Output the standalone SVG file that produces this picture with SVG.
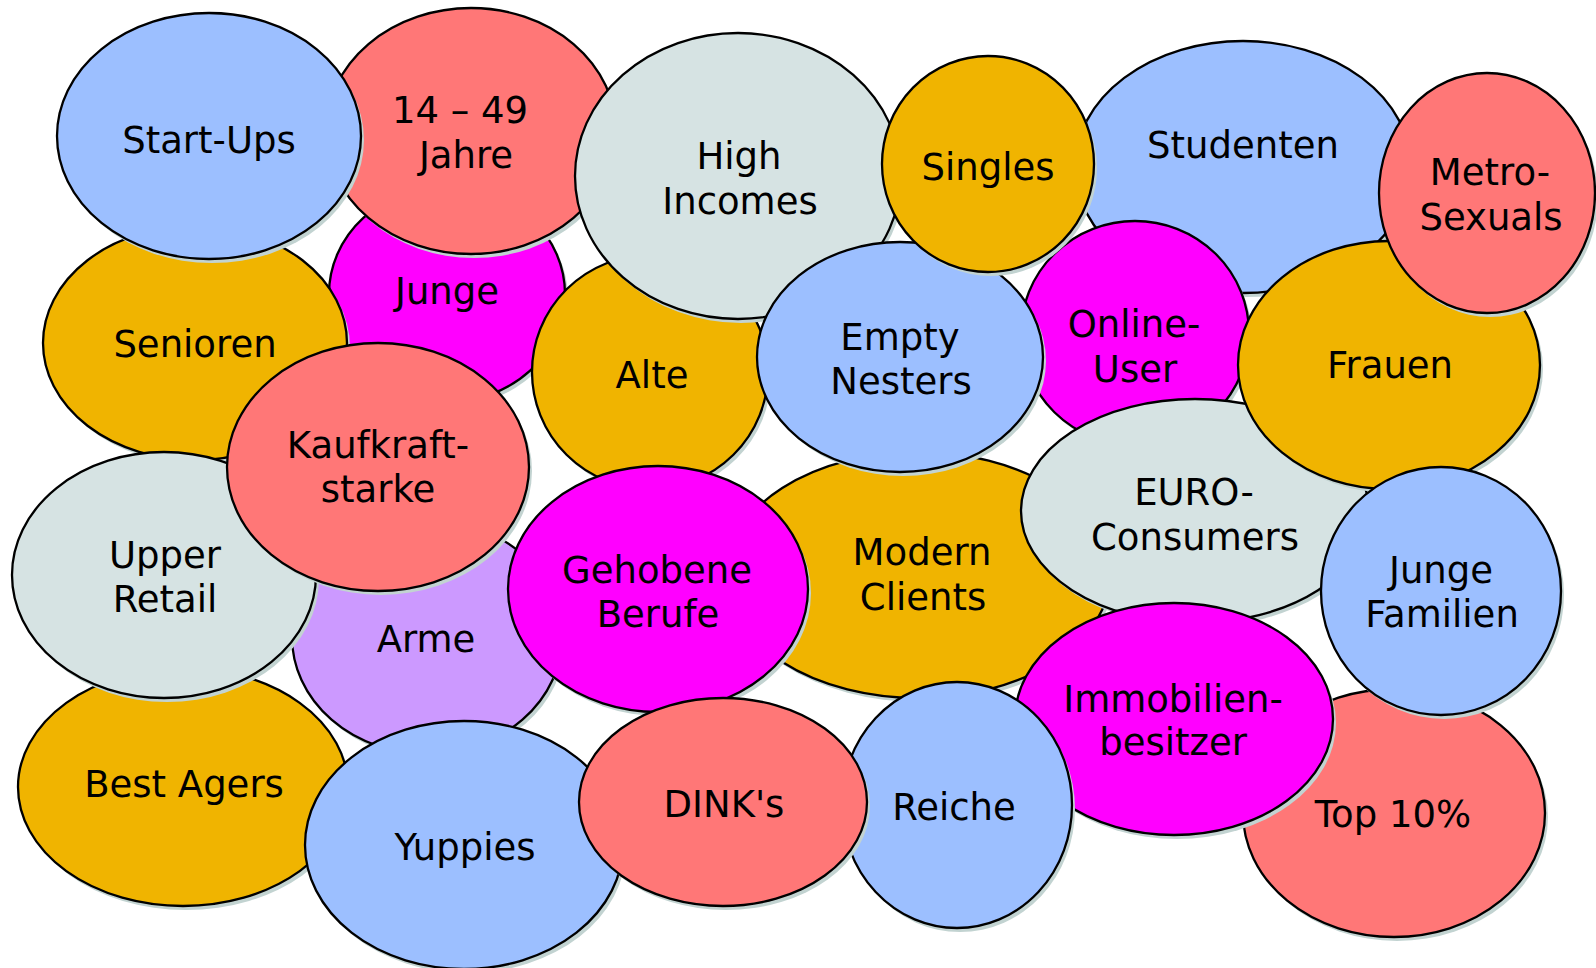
<svg xmlns="http://www.w3.org/2000/svg" width="1596" height="968" viewBox="0 0 1596 968">
  <style>
    .sh { fill: #c2d3d1; }
    .b { stroke: #000; stroke-width: 2.3; }
    .blue { fill: #9cbfff; }
    .red { fill: #ff7777; }
    .grey { fill: #d6e3e3; }
    .gold { fill: #f0b400; }
    .pink { fill: #ff00ff; }
    .lila { fill: #cc99ff; }
    text { font-family: "DejaVu Sans", Verdana, sans-serif; font-size: 37px; fill: #000; text-anchor: middle; }
  </style>
  <rect width="1596" height="968" fill="#fff"/>

  <!-- bubbles, painted back to front; each has its own drop shadow -->
  <g id="junge">
    <ellipse class="sh" cx="450" cy="298" rx="118" ry="108"/>
    <ellipse class="b pink" cx="447" cy="294" rx="118" ry="108"/>
    <text x="447" y="304">Junge</text>
  </g>
  <g id="senioren">
    <ellipse class="sh" cx="198" cy="347" rx="152" ry="117"/>
    <ellipse class="b gold" cx="195" cy="343" rx="152" ry="117"/>
    <text x="195" y="357">Senioren</text>
  </g>
  <g id="alter-14-49">
    <ellipse class="sh" cx="474" cy="135" rx="145" ry="123"/>
    <ellipse class="b red" cx="471" cy="131" rx="145" ry="123"/>
    <text x="460" y="123">14 – 49</text>
    <text x="466" y="168">Jahre</text>
  </g>
  <g id="start-ups">
    <ellipse class="sh" cx="212" cy="140" rx="152" ry="123"/>
    <ellipse class="b blue" cx="209" cy="136" rx="152" ry="123"/>
    <text x="209" y="153">Start-Ups</text>
  </g>
  <g id="alte">
    <ellipse class="sh" cx="653" cy="376" rx="118" ry="117"/>
    <ellipse class="b gold" cx="650" cy="372" rx="118" ry="117"/>
    <text x="652" y="388">Alte</text>
  </g>
  <g id="high-incomes">
    <ellipse class="sh" cx="741" cy="180" rx="163" ry="143"/>
    <ellipse class="b grey" cx="738" cy="176" rx="163" ry="143"/>
    <text x="739" y="169">High</text>
    <text x="740" y="214">Incomes</text>
  </g>
  <g id="studenten">
    <ellipse class="sh" cx="1246" cy="171" rx="168" ry="126"/>
    <ellipse class="b blue" cx="1243" cy="167" rx="168" ry="126"/>
    <text x="1243" y="158">Studenten</text>
  </g>
  <g id="online-user">
    <ellipse class="sh" cx="1138" cy="337" rx="114" ry="112"/>
    <ellipse class="b pink" cx="1135" cy="333" rx="114" ry="112"/>
    <text x="1134" y="337">Online-</text>
    <text x="1135" y="382">User</text>
  </g>
  <g id="modern-clients">
    <ellipse class="sh" cx="921" cy="579" rx="192" ry="123"/>
    <ellipse class="b gold" cx="918" cy="575" rx="192" ry="123"/>
    <text x="922" y="565">Modern</text>
    <text x="923" y="610">Clients</text>
  </g>
  <g id="empty-nesters">
    <ellipse class="sh" cx="903" cy="361" rx="143" ry="115"/>
    <ellipse class="b blue" cx="900" cy="357" rx="143" ry="115"/>
    <text x="900" y="350">Empty</text>
    <text x="901" y="394">Nesters</text>
  </g>
  <g id="singles">
    <ellipse class="sh" cx="991" cy="168" rx="106" ry="108"/>
    <ellipse class="b gold" cx="988" cy="164" rx="106" ry="108"/>
    <text x="988" y="180">Singles</text>
  </g>
  <g id="euro-consumers">
    <ellipse class="sh" cx="1198" cy="515" rx="174" ry="112"/>
    <ellipse class="b grey" cx="1195" cy="511" rx="174" ry="112"/>
    <text x="1194" y="505">EURO-</text>
    <text x="1195" y="550">Consumers</text>
  </g>
  <g id="frauen">
    <ellipse class="sh" cx="1392" cy="369" rx="151" ry="124"/>
    <ellipse class="b gold" cx="1389" cy="365" rx="151" ry="124"/>
    <text x="1390" y="378">Frauen</text>
  </g>
  <g id="metro-sexuals">
    <ellipse class="sh" cx="1490" cy="197" rx="108" ry="120"/>
    <ellipse class="b red" cx="1487" cy="193" rx="108" ry="120"/>
    <text x="1490" y="185">Metro-</text>
    <text x="1491" y="230">Sexuals</text>
  </g>
  <g id="top-10">
    <ellipse class="sh" cx="1397" cy="817" rx="151" ry="124"/>
    <ellipse class="b red" cx="1394" cy="813" rx="151" ry="124"/>
    <text x="1393" y="827">Top 10%</text>
  </g>
  <g id="junge-familien">
    <ellipse class="sh" cx="1444" cy="595" rx="120" ry="124"/>
    <ellipse class="b blue" cx="1441" cy="591" rx="120" ry="124"/>
    <text x="1441" y="583">Junge</text>
    <text x="1442" y="627">Familien</text>
  </g>
  <g id="immobilienbesitzer">
    <ellipse class="sh" cx="1177" cy="723" rx="159" ry="116"/>
    <ellipse class="b pink" cx="1174" cy="719" rx="159" ry="116"/>
    <text x="1173" y="712">Immobilien-</text>
    <text x="1173" y="755">besitzer</text>
  </g>
  <g id="arme">
    <ellipse class="sh" cx="430" cy="641" rx="135" ry="117"/>
    <ellipse class="b lila" cx="427" cy="637" rx="135" ry="117"/>
    <text x="426" y="652">Arme</text>
  </g>
  <g id="best-agers">
    <ellipse class="sh" cx="186" cy="791" rx="165" ry="119"/>
    <ellipse class="b gold" cx="183" cy="787" rx="165" ry="119"/>
    <text x="184" y="797">Best Agers</text>
  </g>
  <g id="upper-retail">
    <ellipse class="sh" cx="167" cy="579" rx="152" ry="123"/>
    <ellipse class="b grey" cx="164" cy="575" rx="152" ry="123"/>
    <text x="165" y="568">Upper</text>
    <text x="165" y="612">Retail</text>
  </g>
  <g id="kaufkraftstarke">
    <ellipse class="sh" cx="381" cy="471" rx="151" ry="124"/>
    <ellipse class="b red" cx="378" cy="467" rx="151" ry="124"/>
    <text x="378" y="458">Kaufkraft-</text>
    <text x="378" y="502">starke</text>
  </g>
  <g id="gehobene-berufe">
    <ellipse class="sh" cx="661" cy="593" rx="150" ry="123"/>
    <ellipse class="b pink" cx="658" cy="589" rx="150" ry="123"/>
    <text x="657" y="583">Gehobene</text>
    <text x="658" y="627">Berufe</text>
  </g>
  <g id="yuppies">
    <ellipse class="sh" cx="467" cy="849" rx="159" ry="124"/>
    <ellipse class="b blue" cx="464" cy="845" rx="159" ry="124"/>
    <text x="465" y="860">Yuppies</text>
  </g>
  <g id="reiche">
    <ellipse class="sh" cx="960" cy="809" rx="115" ry="123"/>
    <ellipse class="b blue" cx="957" cy="805" rx="115" ry="123"/>
    <text x="954" y="820">Reiche</text>
  </g>
  <g id="dinks">
    <ellipse class="sh" cx="726" cy="806" rx="144" ry="104"/>
    <ellipse class="b red" cx="723" cy="802" rx="144" ry="104"/>
    <text x="724" y="817">DINK's</text>
  </g>

  <!-- no links between the bubbles -->
  <g id="connectors"/>
</svg>
